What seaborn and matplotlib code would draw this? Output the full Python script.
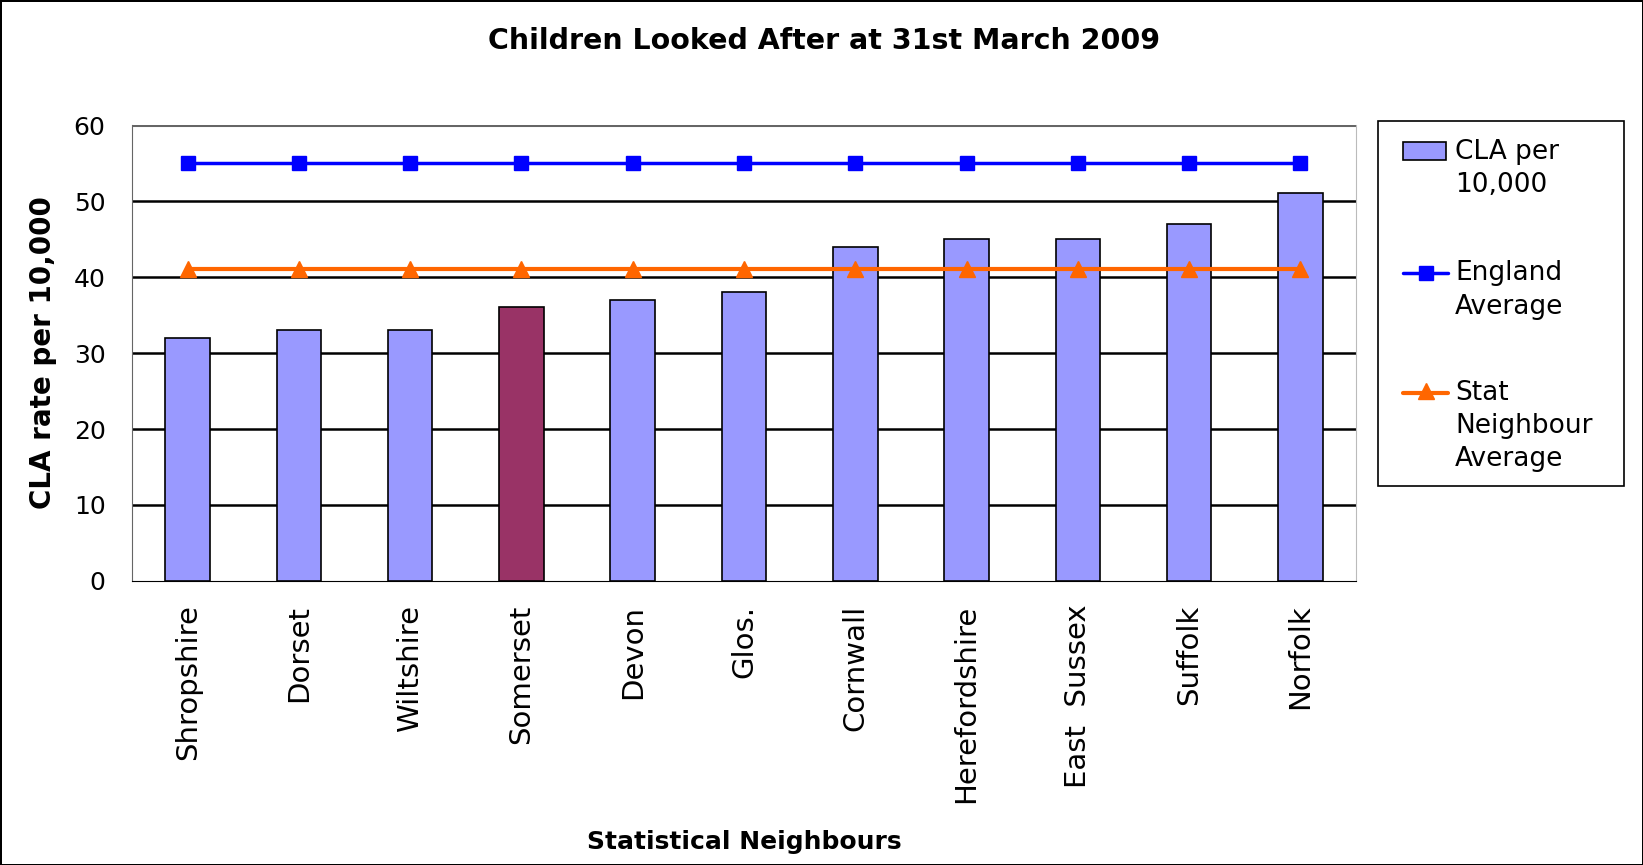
import numpy as np
import pandas as pd
import seaborn as sns
import matplotlib.pyplot as plt
from matplotlib.patches import Rectangle
from matplotlib.lines import Line2D

# Data
areas = ["Shropshire", "Dorset", "Wiltshire", "Somerset", "Devon", "Glos.",
         "Cornwall", "Herefordshire", "East  Sussex", "Suffolk", "Norfolk"]
cla_rate = [32, 33, 33, 36, 37, 38, 44, 45, 45, 47, 51]
england_avg = [55, 55, 55, 55, 55, 55, 55, 55, 55, 55, 55]
stat_neighbour_avg = [41, 41, 41, 41, 41, 41, 41, 41, 41, 41, 41]
y_ticks = [0, 10, 20, 30, 40, 50, 60]
legend_labels = [["CLA per", "10,000"], ["England", "Average"], ["Stat", "Neighbour", "Average"]]

bar_colour = "#9999FF"
highlight_colour = "#993366"
england_colour = "#0000FF"
stat_colour = "#FF6600"
palette = {a: (highlight_colour if a == "Somerset" else bar_colour) for a in areas}

df = pd.DataFrame({"Area": areas, "CLA": cla_rate})

sns.set_style("white")
plt.rcParams["font.family"] = ["DejaVu Sans"]
plt.rcParams["text.color"] = "black"
plt.rcParams["axes.labelcolor"] = "black"
plt.rcParams["xtick.color"] = "black"
plt.rcParams["ytick.color"] = "black"

W, H = 1643, 865
fig = plt.figure(figsize=(W / 100, H / 100), dpi=100, linewidth=2, edgecolor="black")
ax = fig.add_axes([132 / W, 1 - 581 / H, (1356 - 132) / W, (581 - 125) / H])

sns.barplot(data=df, x="Area", y="CLA", hue="Area", palette=palette, legend=False,
            width=0.4, edgecolor="black", linewidth=1.2, saturation=1, ax=ax, zorder=3)

x = np.arange(len(areas))
ax.plot(x, england_avg, color=england_colour, marker="s", markersize=10, linewidth=2.5, zorder=4)
ax.plot(x, stat_neighbour_avg, color=stat_colour, marker="^", markersize=12, linewidth=3, zorder=4)

# axes and grid
ax.set_xlim(-0.5, len(areas) - 0.5)
ax.set_ylim(0, 60)
ax.set_yticks(y_ticks)
for v in y_ticks[1:-1]:
    ax.axhline(v, color="black", linewidth=1.8, zorder=1)
ax.axhline(60, color="#666666", linewidth=2.2, zorder=1)

ax.set_xticks(x)
ax.set_xticklabels(areas, rotation=90, fontsize=21)
ax.set_xticks(np.arange(-0.5, len(areas)), minor=True)
ax.tick_params(axis="x", which="major", length=0, pad=17)
ax.tick_params(axis="x", which="minor", length=7, width=1, color="#333333", direction="out")
ax.tick_params(axis="y", length=8, width=1, color="#333333", labelsize=18, pad=11, direction="out")

ax.spines["top"].set_visible(False)
ax.spines["left"].set_color("#666666")
ax.spines["bottom"].set_color("black")
ax.spines["right"].set_color("#BBBBBB")

ax.set_xlabel("Statistical Neighbours", fontsize=18, fontweight="bold")
ax.xaxis.set_label_coords(0.5, -0.545)
ax.set_ylabel("CLA rate per 10,000", fontsize=20, fontweight="bold")
ax.yaxis.set_label_coords(-0.061, 0.5)
fig.text(824 / W, 1 - 41 / H, "Children Looked After at 31st March 2009",
         fontsize=20.5, fontweight="bold", ha="center", va="center")

# legend box, drawn in figure pixel positions
def fx(px):
    return px / W


def fy(py):
    return 1 - py / H


fig.patches.append(Rectangle((fx(1378), fy(486)), fx(1624) - fx(1378), fy(121) - fy(486),
                             transform=fig.transFigure, facecolor="white",
                             edgecolor="black", linewidth=1.2))
fig.patches.append(Rectangle((fx(1403), fy(160)), fx(1446) - fx(1403), fy(142) - fy(160),
                             transform=fig.transFigure, facecolor=bar_colour,
                             edgecolor="black", linewidth=1.2))
fig.lines.append(Line2D([fx(1403), fx(1448)], [fy(273), fy(273)], transform=fig.transFigure,
                        color=england_colour, linewidth=2.5))
fig.lines.append(Line2D([fx(1426)], [fy(273)], transform=fig.transFigure, color=england_colour,
                        marker="s", markersize=10))
fig.lines.append(Line2D([fx(1403), fx(1448)], [fy(393), fy(393)], transform=fig.transFigure,
                        color=stat_colour, linewidth=3))
fig.lines.append(Line2D([fx(1426)], [fy(391)], transform=fig.transFigure, color=stat_colour,
                        marker="^", markersize=12))

line_rows = [[152, 185], [273, 307], [393, 426, 459]]
for lines, rows in zip(legend_labels, line_rows):
    for txt, row in zip(lines, rows):
        fig.text(fx(1455), fy(row), txt, fontsize=19, ha="left", va="center")

fig.savefig("out.png", dpi=100, edgecolor=fig.get_edgecolor())
